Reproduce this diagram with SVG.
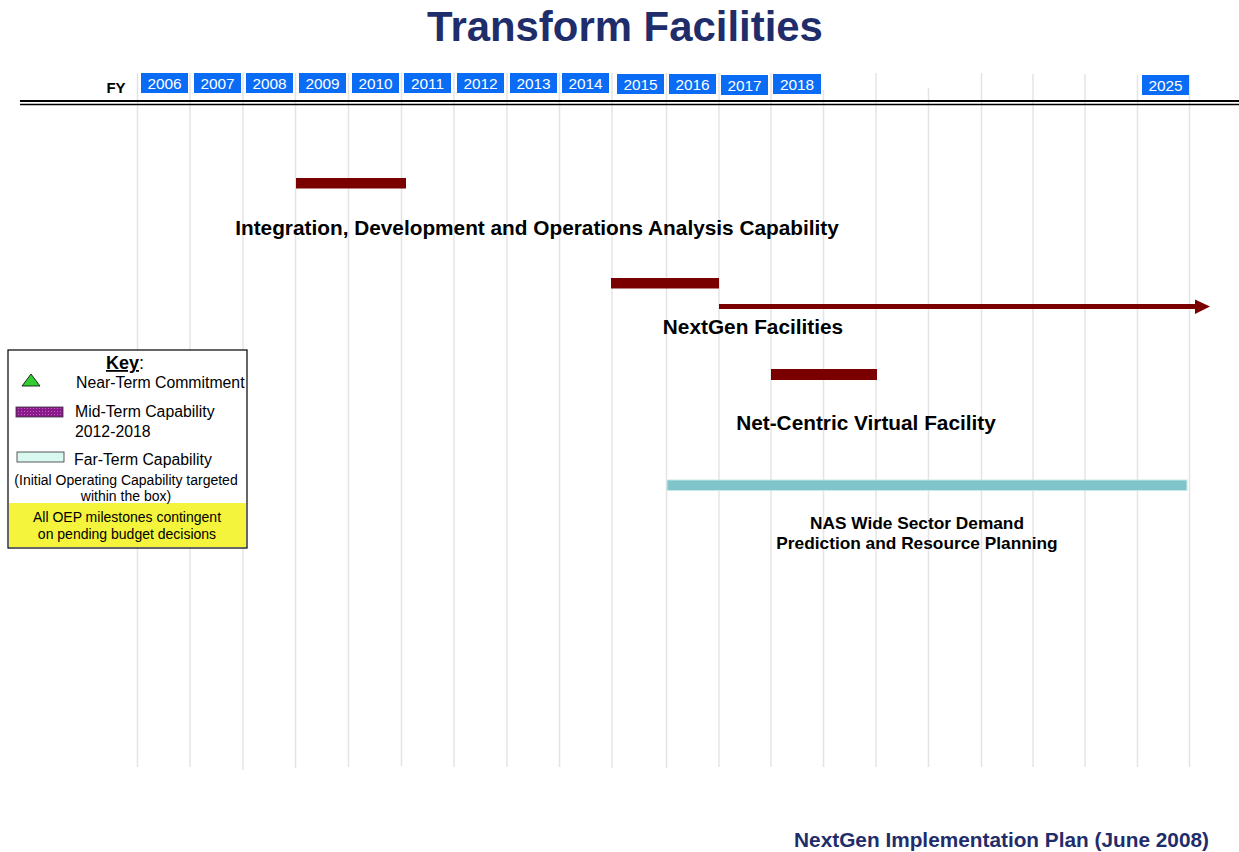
<svg xmlns="http://www.w3.org/2000/svg" width="1239" height="852" viewBox="0 0 1239 852">
<style>
.grid line{stroke:#e4e4e4;stroke-width:1.5}
.yr rect{fill:#0a6cf5}
.yr text{font-family:"Liberation Sans",Arial,sans-serif;font-size:15.4px;fill:#fff;text-anchor:middle}
.lbl{font-family:"Liberation Sans",Arial,sans-serif;font-weight:bold;fill:#000;text-anchor:middle}
.bar{fill:#7a0000}
.k{font-family:"Liberation Sans",Arial,sans-serif;fill:#000}
</style>
<defs>
<pattern id="pp" width="3" height="3" patternUnits="userSpaceOnUse"><rect width="3" height="3" fill="#8a1a8a"/><rect width="1" height="1" fill="#c060c0"/></pattern>
</defs>
<rect width="1239" height="852" fill="#fff"/>
<g class="grid">
<line x1="137.5" y1="73" x2="137.5" y2="767"/>
<line x1="190" y1="73" x2="190" y2="767"/>
<line x1="243" y1="73" x2="243" y2="770"/>
<line x1="295.5" y1="73" x2="295.5" y2="768"/>
<line x1="348.5" y1="73" x2="348.5" y2="767"/>
<line x1="401.5" y1="73" x2="401.5" y2="766"/>
<line x1="454" y1="73" x2="454" y2="767"/>
<line x1="507" y1="73" x2="507" y2="767"/>
<line x1="559.5" y1="73" x2="559.5" y2="767"/>
<line x1="612" y1="73" x2="612" y2="768"/>
<line x1="666.5" y1="73" x2="666.5" y2="768"/>
<line x1="719" y1="73" x2="719" y2="767"/>
<line x1="771" y1="73" x2="771" y2="767"/>
<line x1="823.5" y1="90" x2="823.5" y2="767"/>
<line x1="876" y1="73" x2="876" y2="767"/>
<line x1="928.5" y1="88" x2="928.5" y2="767"/>
<line x1="981.5" y1="73" x2="981.5" y2="767"/>
<line x1="1033" y1="74" x2="1033" y2="767"/>
<line x1="1085" y1="74" x2="1085" y2="767"/>
<line x1="1137.5" y1="75" x2="1137.5" y2="767"/>
<line x1="1189.5" y1="75" x2="1189.5" y2="767"/>
</g>
<g id="axis">
<line x1="20" y1="101" x2="1239" y2="101" stroke="#000" stroke-width="2"/>
<line x1="20" y1="104.5" x2="1239" y2="104.5" stroke="#000" stroke-width="1.6"/>
<text x="116" y="93" class="lbl" style="font-size:15px">FY</text>
</g>
<g class="yr" id="years">
<rect x="141" y="73" width="47" height="20"/><text x="164.5" y="89">2006</text>
<rect x="194" y="73" width="47" height="20"/><text x="217.5" y="89">2007</text>
<rect x="246" y="73" width="47" height="20"/><text x="269.5" y="89">2008</text>
<rect x="299" y="73" width="47" height="20"/><text x="322.5" y="89">2009</text>
<rect x="352" y="73" width="47" height="20"/><text x="375.5" y="89">2010</text>
<rect x="404" y="73" width="47" height="20"/><text x="427.5" y="89">2011</text>
<rect x="457" y="73" width="47" height="20"/><text x="480.5" y="89">2012</text>
<rect x="510" y="73" width="47" height="20"/><text x="533.5" y="89">2013</text>
<rect x="562" y="73" width="47" height="20"/><text x="585.5" y="89">2014</text>
<rect x="617" y="74" width="47" height="20"/><text x="640.5" y="90">2015</text>
<rect x="669" y="74" width="47" height="20"/><text x="692.5" y="90">2016</text>
<rect x="721" y="75" width="47" height="20"/><text x="744.5" y="91">2017</text>
<rect x="773" y="74" width="48" height="20"/><text x="797" y="90">2018</text>
<rect x="1142" y="75" width="47" height="20"/><text x="1165.5" y="91">2025</text>
</g>
<text x="625" y="41" style="font-family:'Liberation Sans',Arial,sans-serif;font-weight:bold;font-size:41.9px;fill:#1f2d6b;text-anchor:middle">Transform Facilities</text>
<g id="n1">
<rect class="bar" x="296" y="178" width="110" height="10.5"/>
<text class="lbl" x="537" y="235" style="font-size:20.8px">Integration, Development and Operations Analysis Capability</text>
</g>
<g id="n2">
<rect class="bar" x="611" y="278" width="108" height="10.5"/>
<text class="lbl" x="753" y="334" style="font-size:20.8px">NextGen Facilities</text>
</g>
<g id="connectors">
<line x1="719" y1="306.5" x2="1196" y2="306.5" stroke="#7a0000" stroke-width="5"/>
<polygon points="1195,299.5 1210,306.5 1195,314" fill="#7a0000"/>
</g>
<g id="n3">
<rect class="bar" x="771" y="369" width="106" height="11"/>
<text class="lbl" x="866" y="430" style="font-size:20.8px">Net-Centric Virtual Facility</text>
</g>
<g id="n4">
<rect x="667" y="480" width="520" height="10.5" fill="#7ec4c9" stroke="#c8e8ea" stroke-width="1"/>
<text class="lbl" x="917" y="529" style="font-size:17.3px">NAS Wide Sector Demand</text>
<text class="lbl" x="917" y="549" style="font-size:17.3px">Prediction and Resource Planning</text>
</g>
<g id="key">
<rect x="8" y="350" width="239" height="198" fill="#fff" stroke="#000" stroke-width="1.2"/>
<rect x="9" y="503" width="237" height="44" fill="#f4f43c"/>
<text class="k" x="125" y="369" style="font-size:18px;text-anchor:middle"><tspan font-weight="bold" text-decoration="underline">Key</tspan>:</text>
<polygon points="31,374 40,386 22,386" fill="#33cc33" stroke="#000" stroke-width="0.8"/>
<text class="k" x="76" y="388" style="font-size:15.8px">Near-Term Commitment</text>
<rect x="16" y="407" width="47" height="10" fill="url(#pp)" stroke="#333" stroke-width="0.8"/>
<text class="k" x="75" y="417" style="font-size:15.8px">Mid-Term Capability</text>
<text class="k" x="75" y="437" style="font-size:15.8px">2012-2018</text>
<rect x="17" y="452" width="47" height="10" fill="#d8f8f0" stroke="#333" stroke-width="0.8"/>
<text class="k" x="74" y="465" style="font-size:15.8px">Far-Term Capability</text>
<text class="k" x="126" y="485" style="font-size:14px;text-anchor:middle">(Initial Operating Capability targeted</text>
<text class="k" x="126" y="501" style="font-size:14px;text-anchor:middle">within the box)</text>
<text class="k" x="127" y="522" style="font-size:14px;text-anchor:middle">All OEP milestones contingent</text>
<text class="k" x="127" y="539" style="font-size:14px;text-anchor:middle">on pending budget decisions</text>
</g>
<text x="1209" y="847" style="font-family:'Liberation Sans',Arial,sans-serif;font-weight:bold;font-size:20.8px;fill:#1f2d6b;text-anchor:end">NextGen Implementation Plan (June 2008)</text>
</svg>
